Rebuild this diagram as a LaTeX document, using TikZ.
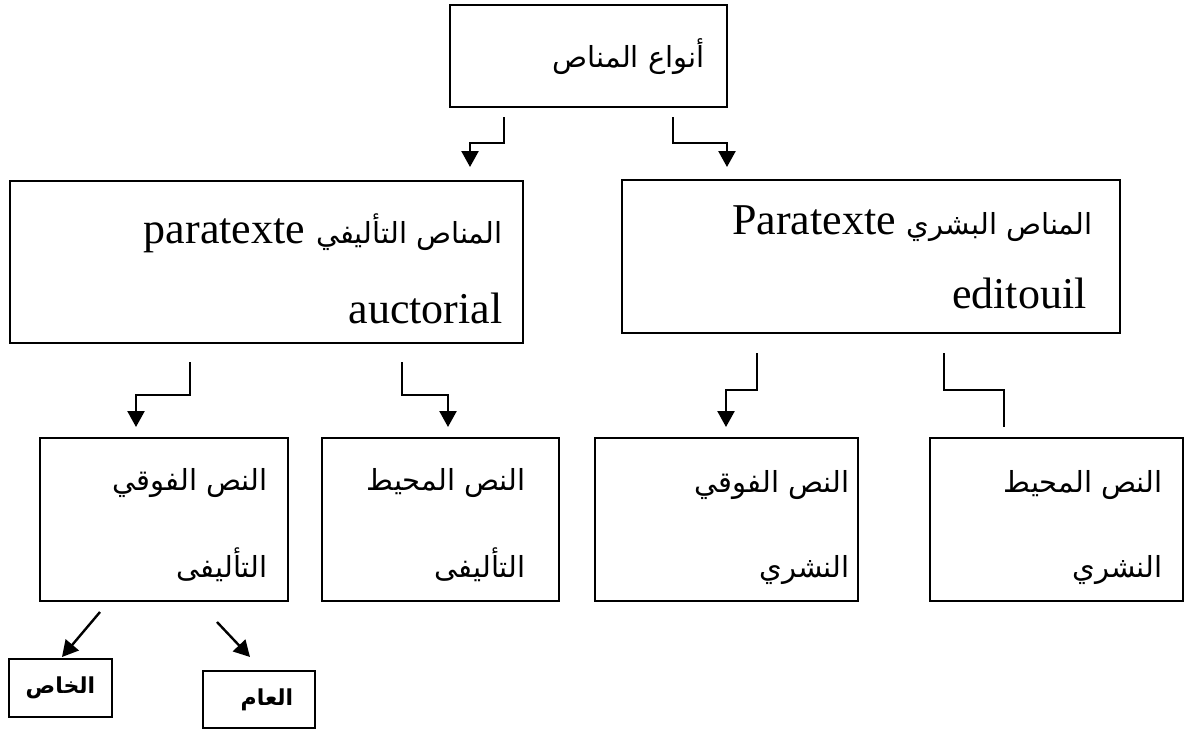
\documentclass[tikz,border=0pt]{standalone}
\usepackage{fontspec}
\setmainfont{Liberation Serif}
\newfontfamily\arabicfont[Script=Arabic]{DejaVu Sans}
\TeXXeTstate=1
\usetikzlibrary{arrows.meta}
\newcommand{\arab}[1]{{\arabicfont\fontsize{14.5}{18}\selectfont\beginR #1\endR}}
\newcommand{\arabgras}[1]{{\arabicfont\bfseries\fontsize{11}{13}\selectfont\beginR #1\endR}}

\begin{document}
\begin{tikzpicture}[x=0.5pt, y=-0.5pt, >=Stealth,
  boite/.style={draw, line width=0.75pt, inner sep=0pt},
  lien/.style={line width=1.2pt, -{Triangle[width=8.5pt,length=8pt]}},
  ligne/.style={anchor=base east, inner sep=0pt, font=\fontsize{22}{26}\selectfont}]
\useasboundingbox (0,0) rectangle (1185,729);
% boites
\node[boite, minimum width=138.5pt, minimum height=51pt] (anwa) at (588.5,56) {};
\node[boite, minimum width=256.5pt, minimum height=81pt] (taalifi) at (266.5,262) {};
\node[boite, minimum width=249pt, minimum height=76.5pt] (bashari) at (871,256.5) {};
\node[boite, minimum width=124pt, minimum height=81.5pt] (fawqiT) at (164,519.5) {};
\node[boite, minimum width=118.5pt, minimum height=81.5pt] (muhitT) at (440.5,519.5) {};
\node[boite, minimum width=131.5pt, minimum height=81.5pt] (fawqiN) at (726.5,519.5) {};
\node[boite, minimum width=126.5pt, minimum height=81.5pt] (muhitN) at (1056.5,519.5) {};
\node[boite, minimum width=51.5pt, minimum height=29pt] (khas) at (60.5,688) {\arabgras{الخاص}};
\node[boite, minimum width=56pt, minimum height=28.5pt] (aam) at (259,699.5) {\hspace*{8pt}\arabgras{العام}};
% textes
\node[ligne] (anwaT) at (705,67) {\arab{أنواع المناص}};
\node[ligne] (taalifiA) at (503,243) {\beginR{\arabicfont\fontsize{14.5}{18}\selectfont المناص التأليفي} \beginL paratexte\endL\endR};
\node[ligne] (taalifiB) at (503,323) {auctorial};
\node[ligne] (bashariA) at (1093,234) {\beginR{\arabicfont\fontsize{14.5}{18}\selectfont المناص البشري} \beginL Paratexte\endL\endR};
\node[ligne] (bashariB) at (1087,308) {editouil};
\node[ligne] (fawqiTA) at (268,490) {\arab{النص الفوقي}};
\node[ligne] (fawqiTB) at (268,577) {\arab{التأليفى}};
\node[ligne] (muhitTA) at (526,490) {\arab{النص المحيط}};
\node[ligne] (muhitTB) at (526,577) {\arab{التأليفى}};
\node[ligne] (fawqiNA) at (850,492) {\arab{النص الفوقي}};
\node[ligne] (fawqiNB) at (850,577) {\arab{النشري}};
\node[ligne] (muhitNA) at (1163,492) {\arab{النص المحيط}};
\node[ligne] (muhitNB) at (1163,577) {\arab{النشري}};
% liens
\coordinate (d1) at (504,117); \coordinate (f1) at (470,167);
\coordinate (d2) at (673,117); \coordinate (f2) at (727,167);
\coordinate (d3) at (190,362); \coordinate (f3) at (136,427);
\coordinate (d4) at (402,362); \coordinate (f4) at (448,427);
\coordinate (d5) at (757,353); \coordinate (f5) at (726,427);
\coordinate (d6) at (944,353); \coordinate (f6) at (1004,427);
\draw[lien] (d1) -- ++(0,26) -| (f1);
\draw[lien] (d2) -- ++(0,26) -| (f2);
\draw[lien] (d3) -- ++(0,33) -| (f3);
\draw[lien] (d4) -- ++(0,33) -| (f4);
\draw[lien] (d5) -- ++(0,37) -| (f5);
\draw[line width=0.6pt] (d6) -- ++(0,37) -| (f6);
\coordinate (d7) at (100,612); \coordinate (f7) at (62,657);
\coordinate (d8) at (217,622); \coordinate (f8) at (250,657);
\draw[lien] (d7) -- (f7);
\draw[lien] (d8) -- (f8);
\end{tikzpicture}
\end{document}
